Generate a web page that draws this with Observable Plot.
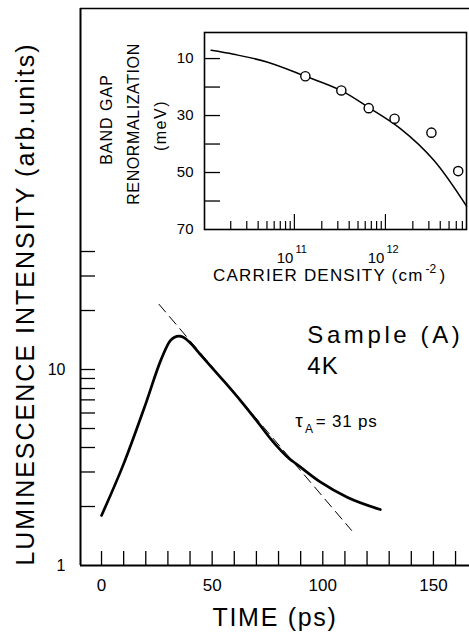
<!DOCTYPE html>
<html><head><meta charset="utf-8">
<script src="https://cdn.jsdelivr.net/npm/d3@7"></script>
<script src="https://cdn.jsdelivr.net/npm/@observablehq/plot@0.6"></script>
<style>
body{margin:0;background:#fff;}
#wrap{position:relative;width:469px;height:634px;overflow:hidden;}
#wrap svg{position:absolute;left:0;top:0;}
</style></head><body><div id="wrap"></div>
<script>
// ---- main panel: luminescence decay ----
const timePs = [0, 10, 20, 27, 31, 33, 35, 37, 40, 45, 55, 63, 70, 77, 85, 88, 99, 111, 126];
const intensity = [1.8, 3.3, 6.7, 11.3, 14.0, 14.6, 14.8, 14.6, 13.7, 11.8, 8.8, 6.9, 5.5, 4.35, 3.5, 3.3, 2.66, 2.23, 1.93];
const fitTimePs = [26, 113];
const fitIntensity = [21.5, 1.51];
const timeTicks = [0, 10, 20, 30, 40, 50, 60, 70, 80, 90, 100, 110, 120, 130, 140, 150, 160];
const timeTickLabels = [0, 50, 100, 150];
const intensityTicks = [2, 3, 4, 5, 6, 7, 8, 9, 10, 20, 30, 40];
const intensityTickLabels = [1, 10];

// ---- inset: band gap renormalization ----
const densityCurve = [1.22e10, 2.15e10, 5.0e10, 1.32e11, 3.2e11, 6.55e11, 1.46e12, 3.4e12, 7.77e12];
const bgrCurve = [7.1, 8.5, 11.2, 16.2, 21.1, 27.2, 34.6, 45.7, 61.8];
const densityPoints = [1.32e11, 3.28e11, 6.55e11, 1.26e12, 3.2e12, 6.3e12];
const bgrPoints = [16.2, 21.2, 27.4, 31.1, 36.0, 49.5];
const bgrTicks = [10, 20, 30, 40, 50, 60];
const bgrTickLabels = [10, 30, 50, 70];
const densityMinorTicks = [2e10, 3e10, 4e10, 5e10, 6e10, 7e10, 8e10, 9e10,
  2e11, 3e11, 4e11, 5e11, 6e11, 7e11, 8e11, 9e11,
  2e12, 3e12, 4e12, 5e12, 6e12, 7e12];
const densityMajorTicks = [1e11, 1e12];
const densityExponents = ["11", "12"];

const font = '"Liberation Sans", Arial, Helvetica, sans-serif';
const xDomain = [-9.5, 166.3];
const yDomain = [1, 695];

const decay = timePs.map((t, i) => ({t, v: intensity[i]}));
const fit = fitTimePs.map((t, i) => ({t, v: fitIntensity[i]}));

const main = Plot.plot({
  width: 469, height: 634,
  marginLeft: 80, marginRight: 0, marginTop: 8, marginBottom: 69,
  style: {fontFamily: font, color: "#000", background: "transparent", overflow: "visible"},
  x: {domain: xDomain},
  y: {type: "log", domain: yDomain},
  marks: [
    Plot.axisX({ticks: timeTicks, tickSize: -14, tickFormat: () => "", label: null, strokeWidth: 1.3}),
    Plot.axisX({ticks: timeTickLabels, tickSize: 0, tickPadding: 13, fontSize: 17, label: null, tickFormat: d => String(d)}),
    Plot.axisY({ticks: intensityTicks, tickSize: -15, tickFormat: () => "", label: null, strokeWidth: 1.3}),
    Plot.axisY({ticks: intensityTickLabels, tickSize: 0, tickPadding: 15, fontSize: 16, label: null, tickFormat: d => String(d)}),
    Plot.ruleX([xDomain[0]], {strokeWidth: 2}),
    Plot.ruleY([yDomain[0]], {strokeWidth: 2}),
    Plot.ruleY([yDomain[1]], {strokeWidth: 1.6}),
    Plot.line(fit, {x: "t", y: "v", stroke: "#000", strokeWidth: 1, strokeDasharray: "10,6"}),
    Plot.line(decay, {x: "t", y: "v", stroke: "#000", strokeWidth: 2.7, curve: "monotone-x"}),
    Plot.text(["Sample (A)"], {x: 93, y: 13.6, textAnchor: "start", lineAnchor: "bottom", fontSize: 24}),
    Plot.text(["4K"], {x: 93, y: 9.54, textAnchor: "start", lineAnchor: "bottom", fontSize: 24}),
    Plot.text(["τ"], {x: 87.5, y: 5.06, textAnchor: "start", lineAnchor: "bottom", fontSize: 19}),
    Plot.text(["A"], {x: 92.0, y: 4.77, textAnchor: "start", lineAnchor: "bottom", fontSize: 12}),
    Plot.text(["= 31 ps"], {x: 96.8, y: 5.06, textAnchor: "start", lineAnchor: "bottom", fontSize: 17}),
    Plot.text(["TIME (ps)"], {frameAnchor: "bottom", dy: 60, lineAnchor: "bottom", fontSize: 25}),
    Plot.text(["LUMINESCENCE INTENSITY (arb.units)"], {frameAnchor: "left", rotate: -90, dx: -47, dy: 17, textAnchor: "middle", lineAnchor: "bottom", fontSize: 25})
  ]
});

const inset = Plot.plot({
  width: 469, height: 634,
  marginLeft: 204, marginRight: 3, marginTop: 32, marginBottom: 405,
  style: {fontFamily: font, color: "#000", background: "transparent", overflow: "visible"},
  x: {type: "log", domain: [1.03e10, 7.77e12]},
  y: {domain: [70, 0.85]},
  marks: [
    Plot.frame({stroke: "#000", strokeWidth: 1.6}),
    Plot.axisY({ticks: bgrTicks, tickSize: -16, tickFormat: () => "", label: null, strokeWidth: 1.3}),
    Plot.axisY({ticks: bgrTickLabels, tickSize: 0, tickPadding: 11, fontSize: 15, label: null, tickFormat: d => String(d)}),
    Plot.axisX({ticks: densityMinorTicks, tickSize: -8, tickFormat: () => "", label: null, strokeWidth: 1.2}),
    Plot.axisX({ticks: densityMajorTicks, tickSize: -15, tickFormat: () => "", label: null, strokeWidth: 1.2}),
    Plot.line(densityCurve.map((d, i) => ({d, e: bgrCurve[i]})), {x: "d", y: "e", stroke: "#000", strokeWidth: 1.5, curve: "catmull-rom"}),
    Plot.dot(densityPoints.map((d, i) => ({d, e: bgrPoints[i]})), {x: "d", y: "e", r: 4.6, stroke: "#000", fill: "#fff", strokeWidth: 1.4}),
    Plot.text(densityMajorTicks, {x: d => d, frameAnchor: "bottom", text: () => "10", textAnchor: "end", dx: -1, dy: 33, lineAnchor: "bottom", fontSize: 15}),
    Plot.text(densityMajorTicks, {x: d => d, frameAnchor: "bottom", text: (d, i) => densityExponents[i], textAnchor: "start", dx: 1, dy: 23, lineAnchor: "bottom", fontSize: 11}),
    Plot.text(["CARRIER DENSITY (cm"], {frameAnchor: "bottom-left", dx: 219, dy: 51, textAnchor: "end", lineAnchor: "bottom", fontSize: 17}),
    Plot.text(["-2"], {frameAnchor: "bottom-left", dx: 221, dy: 43, textAnchor: "start", lineAnchor: "bottom", fontSize: 12}),
    Plot.text([")"], {frameAnchor: "bottom-left", dx: 235, dy: 51, textAnchor: "start", lineAnchor: "bottom", fontSize: 17}),
    Plot.text(["BAND GAP"], {frameAnchor: "left", rotate: -90, dx: -93, dy: -11.5, textAnchor: "middle", lineAnchor: "bottom", fontSize: 16}),
    Plot.text(["RENORMALIZATION"], {frameAnchor: "left", rotate: -90, dx: -66, dy: -7, textAnchor: "middle", lineAnchor: "bottom", fontSize: 16}),
    Plot.text(["(meV)"], {frameAnchor: "left", rotate: -90, dx: -39, dy: -5.5, textAnchor: "middle", lineAnchor: "bottom", fontSize: 16})
  ]
});

const spacing = {
  "Sample (A)": 3.6, "4K": 1, "TIME (ps)": 1.7,
  "LUMINESCENCE INTENSITY (arb.units)": 2,
  "CARRIER DENSITY (cm": 1.2, "BAND GAP": 1, "RENORMALIZATION": 0.6, "(meV)": 1.5, "= 31 ps": 0.8
};
for (const svg of [main, inset]) {
  d3.select(svg).selectAll("text").each(function() {
    const s = spacing[this.textContent];
    if (s != null) this.setAttribute("letter-spacing", s);
  });
}
const wrap = document.getElementById("wrap");
wrap.appendChild(main);
wrap.appendChild(inset);
</script>
</body></html>
